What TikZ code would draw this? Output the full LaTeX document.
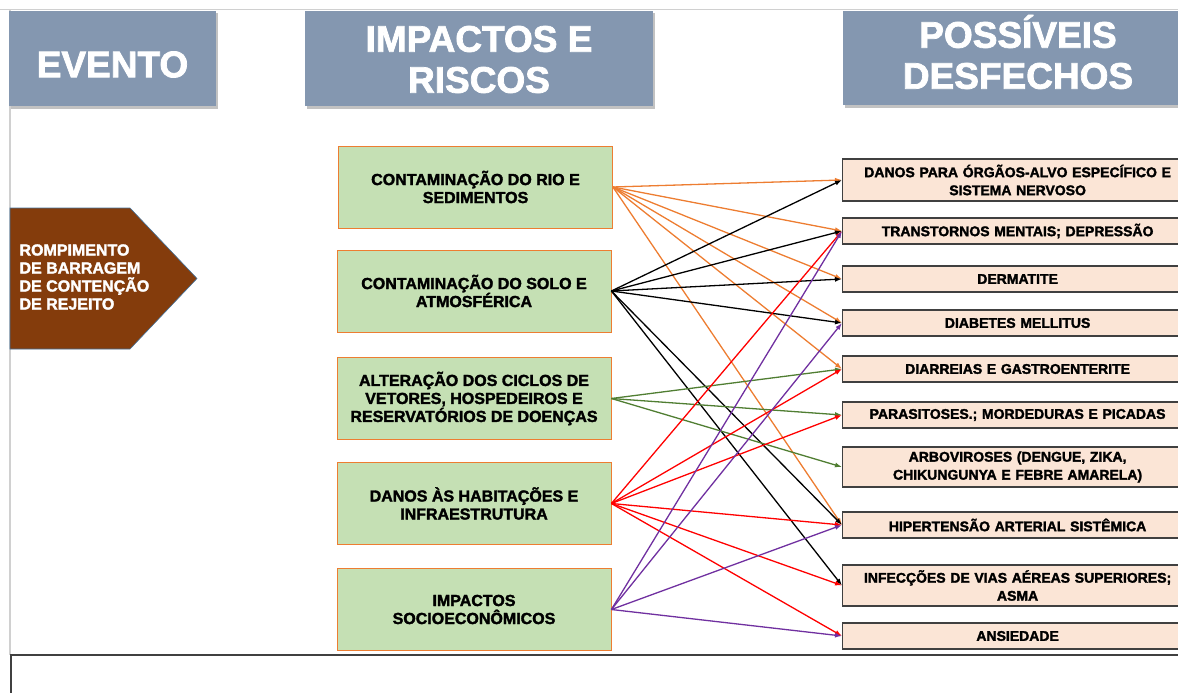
\documentclass[tikz,border=0pt]{standalone}
\usepackage{fontspec}
\setmainfont{Liberation Sans}[BoldFeatures={FakeBold=2}]
\usetikzlibrary{
	positioning,   %定位
	arrows.meta,   %箭头
	shadows        %阴影
}
\definecolor{cabecalho}{HTML}{8497B0}
\definecolor{verdeclaro}{HTML}{C5E0B4}
\definecolor{laranja}{HTML}{ED7D31}
\definecolor{salmao}{HTML}{FBE5D6}
\definecolor{marrom}{HTML}{843C0C}
\definecolor{azulborda}{HTML}{41719C}
\definecolor{cinzaescuro}{HTML}{404040}
\definecolor{cinzaclaro}{HTML}{D0D0D0}
\definecolor{verdeescuro}{HTML}{507E32}
\definecolor{roxo}{HTML}{7030A0}
\tikzstyle{titulo}=[rectangle,
fill=cabecalho,
drop shadow={shadow xshift=1.5pt,shadow yshift=-2.5pt,fill=black!40,opacity=0.6}]
\tikzstyle{titulotexto}=[text=white,
align=center,
font=\bfseries\fontsize{37}{41}\selectfont]
\tikzstyle{impacto}=[rectangle,
fill=verdeclaro,
draw=laranja,
line width=0.8pt,
align=center,
minimum width=274pt,
minimum height=82pt,
font=\bfseries\fontsize{16}{18}\selectfont]
\tikzstyle{desfecho}=[rectangle,
fill=salmao,
draw=cinzaescuro,
line width=1.2pt,
anchor=west,
align=center,
text width=330pt,
inner xsep=10pt,
minimum height=26pt,
font=\bfseries\fontsize{14}{18}\selectfont]
\tikzset{
	every picture/.style={
		>={Latex[length=7pt,width=5pt]}
	},
	seta/.style={->,line width=1.3pt}
}
\begin{document}
\begin{tikzpicture}[x=1pt,y=-1pt]
\clip (0,0) rectangle (1178,693);
% moldura
\draw[cinzaclaro,line width=1pt] (0,10) -- (1178,10);
\draw[cinzaclaro,line width=1.5pt] (10,10) -- (10,655);
\draw[cinzaescuro,line width=1.3pt] (11,700) -- (11,655) -- (1190,655);
% titulos
\node[titulo,minimum width=207pt,minimum height=95pt] (evento) at (112.5,58.5) {};
\node[titulo,minimum width=348pt,minimum height=95pt] (impactos) at (479,58.5) {};
\node[titulo,minimum width=350pt,minimum height=94pt] (desfechos) at (1018,58) {};
\node[titulotexto] (evento-txt) at ([yshift=-6pt]evento.center) {EVENTO};
\node[titulotexto] (impactos-txt) at ([yshift=-1pt]impactos.center) {IMPACTOS E\\RISCOS};
\node[titulotexto] (desfechos-txt) at ([yshift=6pt]desfechos.center) {POSSÍVEIS\\DESFECHOS};
% evento
\filldraw[fill=marrom,draw=azulborda,line width=0.6pt] (10,208) -- (130,208) -- (197,278.5) -- (130,349) -- (10,349) -- cycle;
\node[anchor=west,align=left,text=white,font=\bfseries\fontsize{16}{18}\selectfont] (rompimento) at (16,277) {ROMPIMENTO\\DE BARRAGEM\\DE CONTENÇÃO\\DE REJEITO};
% impactos e riscos
\node[impacto] (rio) at (475.5,187) {CONTAMINAÇÃO DO RIO E\\SEDIMENTOS};
\node[impacto] (solo) at (474,291) {CONTAMINAÇÃO DO SOLO E\\ATMOSFÉRICA};
\node[impacto] (vetores) at (474,398.5) {ALTERAÇÃO DOS CICLOS DE\\VETORES, HOSPEDEIROS E\\RESERVATÓRIOS DE DOENÇAS};
\node[impacto] (habitacoes) at (474,503.5) {DANOS ÀS HABITAÇÕES E\\INFRAESTRUTURA};
\node[impacto] (socio) at (474,609.5) {IMPACTOS\\SOCIOECONÔMICOS};
% desfechos
\node[desfecho,minimum height=42pt] (orgaos) at (842,180) {DANOS PARA ÓRGÃOS-ALVO ESPECÍFICO E\\SISTEMA NERVOSO};
\node[desfecho] (mentais) at (842,231) {TRANSTORNOS MENTAIS; DEPRESSÃO};
\node[desfecho] (dermatite) at (842,279) {DERMATITE};
\node[desfecho] (diabetes) at (842,323) {DIABETES MELLITUS};
\node[desfecho] (diarreias) at (842,369) {DIARREIAS E GASTROENTERITE};
\node[desfecho] (parasitoses) at (842,415) {PARASITOSES.; MORDEDURAS E PICADAS};
\node[desfecho,minimum height=40pt] (arboviroses) at (842,467) {ARBOVIROSES (DENGUE, ZIKA,\\CHIKUNGUNYA E FEBRE AMARELA)};
\node[desfecho] (hipertensao) at (842,525) {HIPERTENSÃO ARTERIAL SISTÊMICA};
\node[desfecho,minimum height=41pt] (infeccoes) at (842,585.5) {INFECÇÕES DE VIAS AÉREAS SUPERIORES;\\ASMA};
\node[desfecho] (ansiedade) at (842,636) {ANSIEDADE};
% setas
\path[seta,laranja] (rio.east) edge (orgaos.west) edge (mentais.west) edge (dermatite.west)
	edge (diabetes.west) edge (diarreias.west) edge (hipertensao.west);
\path[seta,black] (solo.east) edge (orgaos.west) edge (mentais.west) edge (dermatite.west)
	edge (diabetes.west) edge (hipertensao.west) edge (infeccoes.west);
\path[seta,verdeescuro] (vetores.east) edge (diarreias.west) edge (parasitoses.west) edge (arboviroses.west);
\path[seta,red] (habitacoes.east) edge (mentais.west) edge (diarreias.west) edge (parasitoses.west)
	edge (hipertensao.west) edge (infeccoes.west) edge (ansiedade.west);
\path[seta,roxo] (socio.east) edge (mentais.west) edge (diabetes.west) edge (hipertensao.west) edge (ansiedade.west);
\end{tikzpicture}
\end{document}
